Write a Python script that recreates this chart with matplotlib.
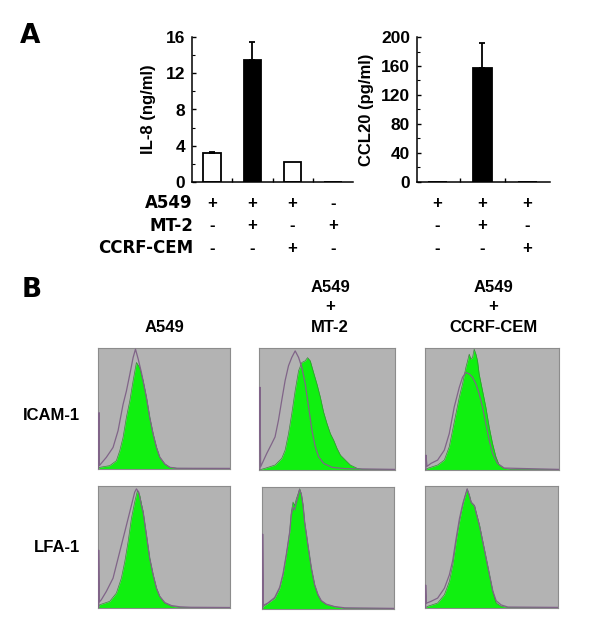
import matplotlib
matplotlib.use("Agg")
import matplotlib.pyplot as plt
import matplotlib.transforms as mtransforms
from matplotlib.ticker import MultipleLocator

plt.rcParams['font.family'] = ['Liberation Sans', 'DejaVu Sans']
plt.rcParams['font.weight'] = 'bold'

# ---------------- Panel A data ----------------
il8_values = [3.2, 13.5, 2.2, 0.05]
il8_err = [0.15, 2.0, 0.0, 0.0]
il8_colors = ['white', 'black', 'white', 'white']
il8_a549 = ['+', '+', '+', '-']
il8_mt2 = ['-', '+', '-', '+']
il8_ccrf = ['-', '-', '+', '-']

ccl20_values = [0.5, 157, 0.5]
ccl20_err = [0.0, 35, 0.0]
ccl20_colors = ['white', 'black', 'white']
ccl20_a549 = ['+', '+', '+']
ccl20_mt2 = ['-', '+', '-']
ccl20_ccrf = ['-', '-', '+']

row_labels = ['A549', 'MT-2', 'CCRF-CEM']

# ---------------- Panel B data (x, y in % of panel) ----------------
col_top = ['', 'A549', 'A549']
col_mid = ['', '+', '+']
col_bottom = ['A549', 'MT-2', 'CCRF-CEM']
hist_rows = ['ICAM-1', 'LFA-1']

icam_a549_x = [0, 1.3, 8.9, 13.9, 16.5, 19.0, 21.5, 24.1, 26.6, 29.1, 31.6, 34.2, 36.7, 39.2, 41.8, 44.3, 46.8, 50.6, 54.4, 59.5, 100]
icam_a549_y = [0, 1.4, 2.8, 6.9, 15.3, 26.4, 43.1, 56.9, 73.6, 88.9, 84.7, 73.6, 59.7, 43.1, 29.2, 18.1, 9.7, 4.2, 1.4, 0.6, 0.4]
icam_a549_ctrl_x = [0.3, 0.8, 1.0, 6.3, 11.4, 15.2, 19.0, 21.5, 24.1, 26.6, 28.4, 30.4, 32.9, 36.7, 39.2, 41.8, 44.3, 46.8, 50.6, 54.4, 60, 100]
icam_a549_ctrl_y = [0, 47, 2.8, 9.7, 18, 32, 54, 65, 79, 93, 100, 92, 80.5, 59.7, 43, 29, 18, 10, 4.2, 1.4, 0.6, 0.5]

icam_mt2_x = [0, 4.4, 11.8, 16.7, 19.2, 21.7, 24.1, 26.6, 29.1, 31.5, 34.0, 35.7, 37.7, 40.1, 42.6, 45.1, 47.5, 50.0, 52.5, 54.9, 57.4, 59.9, 63.5, 67.2, 72.2, 75.9, 100]
icam_mt2_y = [0, 1.4, 4.1, 9.6, 16.4, 30.1, 46.6, 65.8, 82.2, 89.0, 90.4, 93.0, 90.4, 80.8, 71.2, 60.3, 47.9, 38.4, 30.1, 24.7, 17.8, 12.3, 8.2, 4.1, 1.4, 0.5, 0.3]
icam_mt2_ctrl_x = [0.7, 0.7, 1.2, 5.7, 9.4, 11.8, 14.3, 16.7, 19.2, 21.7, 24.1, 26.6, 29.1, 31.5, 34.0, 36.5, 38.9, 41.4, 43.8, 47.5, 53.7, 63.5, 100]
icam_mt2_ctrl_y = [0, 68.5, 2.7, 13.7, 21.9, 27.4, 41.1, 57.5, 74.0, 86.3, 93.2, 98.6, 93.2, 84.9, 71.2, 52.0, 32.9, 19.2, 11.0, 5.5, 2.2, 1.1, 0.5]

icam_ccrf_x = [0, 2.0, 9.4, 14.4, 18.1, 20.6, 23.1, 25.6, 28.0, 30.5, 31.8, 33.0, 34.2, 35.5, 36.7, 38.0, 39.2, 40.4, 42.9, 45.4, 47.9, 50.4, 52.9, 55.3, 59.1, 64.0, 100]
icam_ccrf_y = [0, 1.4, 4.1, 8.2, 19.2, 32.9, 46.6, 60.3, 71.2, 84.9, 90.4, 95.9, 91.8, 93.2, 100, 95.9, 90.4, 79.5, 65.8, 52.1, 35.6, 21.9, 11.0, 4.1, 1.4, 0.5, 0.3]
icam_ccrf_ctrl_x = [0.7, 0.7, 1.5, 4.5, 9.4, 14.4, 18.1, 21.8, 25.6, 28.0, 30.5, 33.0, 35.5, 38.0, 40.4, 42.9, 45.4, 47.9, 50.4, 54.1, 59.1, 100]
icam_ccrf_ctrl_y = [0, 12.3, 3.0, 5.5, 8.2, 16.4, 30.1, 52.1, 68.5, 76.7, 80.8, 79.5, 76.7, 71.2, 63.0, 52.1, 38.4, 24.7, 13.7, 5.5, 1.6, 0.5]

lfa_a549_x = [0, 1.3, 8.9, 13.9, 17.7, 20.3, 22.8, 25.3, 27.8, 29.9, 31.6, 34.2, 36.7, 39.2, 41.8, 44.3, 46.8, 50.6, 55.7, 62.0, 100]
lfa_a549_y = [0, 2.7, 5.5, 12.3, 24.7, 38.4, 54.8, 74.0, 87.7, 97.3, 93.2, 79.5, 60.3, 41.1, 27.4, 16.4, 9.6, 4.1, 1.4, 0.5, 0.3]
lfa_a549_ctrl_x = [0.5, 0.5, 1.0, 2.5, 6.3, 11.4, 15.2, 19.0, 22.8, 25.3, 27.8, 29.1, 30.9, 32.9, 34.2, 36.7, 39.2, 41.8, 44.3, 46.8, 50.6, 55.7, 62.0, 70.0, 100]
lfa_a549_ctrl_y = [0, 47.9, 5.0, 6.8, 13.7, 24.7, 41.1, 57.5, 74.0, 84.9, 95.9, 98.6, 95.9, 85.0, 79.5, 60.3, 41.1, 27.4, 16.4, 9.6, 4.5, 2.0, 1.0, 0.6, 0.4]

lfa_mt2_x = [0, 0.8, 4.5, 9.6, 13.4, 15.9, 18.4, 21.0, 22.2, 23.5, 24.7, 26.0, 27.3, 28.5, 29.8, 31.1, 32.3, 34.8, 37.4, 39.9, 42.4, 44.9, 48.7, 55.0, 62.6, 100]
lfa_mt2_y = [0, 1.9, 4.7, 8.8, 17.0, 28.0, 44.5, 63.7, 80.2, 88.5, 85.7, 91.2, 95.3, 99.5, 95.3, 85.7, 72.0, 52.7, 33.5, 19.8, 11.5, 6.6, 3.8, 1.9, 0.5, 0.3]
lfa_mt2_ctrl_x = [0.5, 0.5, 1.0, 4.5, 9.6, 13.4, 15.9, 18.4, 21.0, 22.2, 23.5, 24.7, 26.0, 27.3, 28.5, 29.8, 31.1, 32.3, 34.8, 37.4, 39.9, 42.4, 44.9, 48.7, 55.0, 62.6, 100]
lfa_mt2_ctrl_y = [0, 62, 3, 5, 9.5, 18, 29, 45, 64, 78, 84, 82, 88, 93, 99, 95, 86, 72, 53, 34, 20, 12, 7, 4, 2, 1, 0.5]

lfa_ccrf_x = [0, 2.0, 9.5, 14.6, 18.3, 20.9, 23.4, 25.9, 28.4, 29.6, 31.7, 33.4, 34.7, 37.2, 38.4, 41.0, 43.5, 46.0, 48.5, 51.0, 53.5, 57.3, 62.3, 100]
lfa_ccrf_y = [0, 1.4, 4.1, 11.0, 21.9, 35.6, 54.8, 71.2, 84.9, 90.4, 98.6, 93.2, 87.7, 84.9, 79.5, 68.5, 54.8, 41.1, 27.4, 13.7, 4.1, 1.4, 0.5, 0.3]
lfa_ccrf_ctrl_x = [0.5, 0.5, 1.0, 4.5, 9.5, 14.6, 18.3, 20.9, 23.4, 25.9, 28.4, 31.7, 33.4, 34.7, 37.2, 38.4, 41.0, 43.5, 46.0, 48.5, 51.0, 53.5, 57.3, 62.3, 100]
lfa_ccrf_ctrl_y = [0, 19, 4, 5.5, 8.2, 16.4, 27.4, 39.7, 57.5, 74.0, 86.3, 98.6, 93.0, 87.5, 84.5, 79.0, 68.0, 54.5, 41.0, 27.5, 14.0, 6.0, 2.5, 0.8, 0.5]

W, H = 600, 644
fig = plt.figure(figsize=(6.0, 6.44), dpi=100)


def px_axes(x0, y0, x1, y1):
    return fig.add_axes([x0 / W, 1 - y1 / H, (x1 - x0) / W, (y1 - y0) / H])


def fx(x):
    return x / W


def fy(y):
    return 1 - y / H


TICK_FS = 12.5
WIDE = ['DejaVu Sans']


# ---------------- Bar chart helper ----------------
def bar_chart(ax, values, errs, colors, ymax, major, minor, ylabel, xlim, xticks, lpad):
    x = list(range(len(values)))
    ax.bar(x, values, width=0.43, color=colors, edgecolor='black', linewidth=1.3, zorder=2)
    for xi, v, e in zip(x, values, errs):
        if e > 0:
            ax.errorbar([xi], [v], yerr=[[0], [e]], fmt='none', ecolor='black',
                        elinewidth=1.3, capsize=2.5, capthick=1.3, zorder=3)
    ax.set_xlim(*xlim)
    ax.set_ylim(0, ymax)
    ax.yaxis.set_major_locator(MultipleLocator(major))
    ax.yaxis.set_minor_locator(MultipleLocator(minor))
    ax.set_xticks(xticks)
    ax.set_xticklabels([])
    ax.tick_params(axis='x', direction='in', length=3, width=1)
    ax.tick_params(axis='y', which='major', direction='in', length=3, width=1,
                   labelsize=TICK_FS, pad=5)
    ax.tick_params(axis='y', which='minor', direction='in', length=2, width=0.8)
    for lab in ax.get_yticklabels():
        lab.set_fontweight('bold')
    for s in ['top', 'right']:
        ax.spines[s].set_visible(False)
    for s in ['left', 'bottom']:
        ax.spines[s].set_linewidth(1.1)
    ax.set_ylabel(ylabel, fontsize=12, fontweight='bold', labelpad=lpad)
    ax.patch.set_alpha(0)


ax1 = px_axes(192, 37, 353, 182)
bar_chart(ax1, il8_values, il8_err, il8_colors, 16, 4, 2, 'IL-8 (ng/ml)',
          (-0.5, 3.5), [0.5, 1.5, 2.5], 7)
ax2 = px_axes(417, 37, 550, 182)
bar_chart(ax2, ccl20_values, ccl20_err, ccl20_colors, 200, 40, 20, 'CCL20 (pg/ml)',
          (-0.45, 2.5), [0.5, 1.5], 5)

row_y = [203, 226, 248]
for ax, rows in [(ax1, [il8_a549, il8_mt2, il8_ccrf]), (ax2, [ccl20_a549, ccl20_mt2, ccl20_ccrf])]:
    trans = mtransforms.blended_transform_factory(ax.transData, fig.transFigure)
    for ry, signs in zip(row_y, rows):
        for xi, s in enumerate(signs):
            fig.text(xi, fy(ry), s, transform=trans, ha='center', va='center',
                     fontsize=12, fontweight='bold')
for ry, lab in zip(row_y, row_labels):
    fig.text(fx(193), fy(ry), lab, ha='right', va='center', fontsize=12,
             fontweight='bold', family=WIDE)

fig.text(fx(20), fy(36), 'A', ha='left', va='center', fontsize=19, fontweight='bold', family=WIDE)
fig.text(fx(22), fy(290), 'B', ha='left', va='center', fontsize=19, fontweight='bold', family=WIDE)

# ---------------- Panel B ----------------
col_centers = [164, 330, 493]
for cx, t, m, b in zip(col_centers, col_top, col_mid, col_bottom):
    for ty, txt in [(287, t), (307, m), (328, b)]:
        if txt:
            fig.text(fx(cx), fy(ty), txt, ha='center', va='center', fontsize=12,
                     fontweight='bold')

fig.text(fx(80), fy(416), hist_rows[0], ha='right', va='center', fontsize=12, fontweight='bold')
fig.text(fx(80), fy(547), hist_rows[1], ha='right', va='center', fontsize=12, fontweight='bold')

panel_boxes = [
    (98, 348, 230, 469), (259, 348, 395, 470), (425, 348, 559, 470),
    (98, 486, 230, 608), (262, 487, 394, 609), (425, 486, 558, 608),
]
panel_data = [
    (icam_a549_x, icam_a549_y, icam_a549_ctrl_x, icam_a549_ctrl_y),
    (icam_mt2_x, icam_mt2_y, icam_mt2_ctrl_x, icam_mt2_ctrl_y),
    (icam_ccrf_x, icam_ccrf_y, icam_ccrf_ctrl_x, icam_ccrf_ctrl_y),
    (lfa_a549_x, lfa_a549_y, lfa_a549_ctrl_x, lfa_a549_ctrl_y),
    (lfa_mt2_x, lfa_mt2_y, lfa_mt2_ctrl_x, lfa_mt2_ctrl_y),
    (lfa_ccrf_x, lfa_ccrf_y, lfa_ccrf_ctrl_x, lfa_ccrf_ctrl_y),
]
for box, (gx, gy, cx_, cy_) in zip(panel_boxes, panel_data):
    ax = px_axes(*box)
    ax.set_facecolor('#b3b3b3')
    ax.fill_between(gx, gy, 0, color='#10f010', linewidth=0, zorder=2)
    ax.plot(gx, gy, color='#3a8a3a', linewidth=0.5, zorder=3)
    ax.plot(cx_, cy_, color='#806488', linewidth=0.9, zorder=4)
    ax.set_xlim(0, 100)
    ax.set_ylim(0, 101)
    ax.set_xticks([])
    ax.set_yticks([])
    for s in ax.spines.values():
        s.set_color('#8c8c8c')
        s.set_linewidth(0.8)

fig.savefig('out.png', dpi=100, facecolor='white')
